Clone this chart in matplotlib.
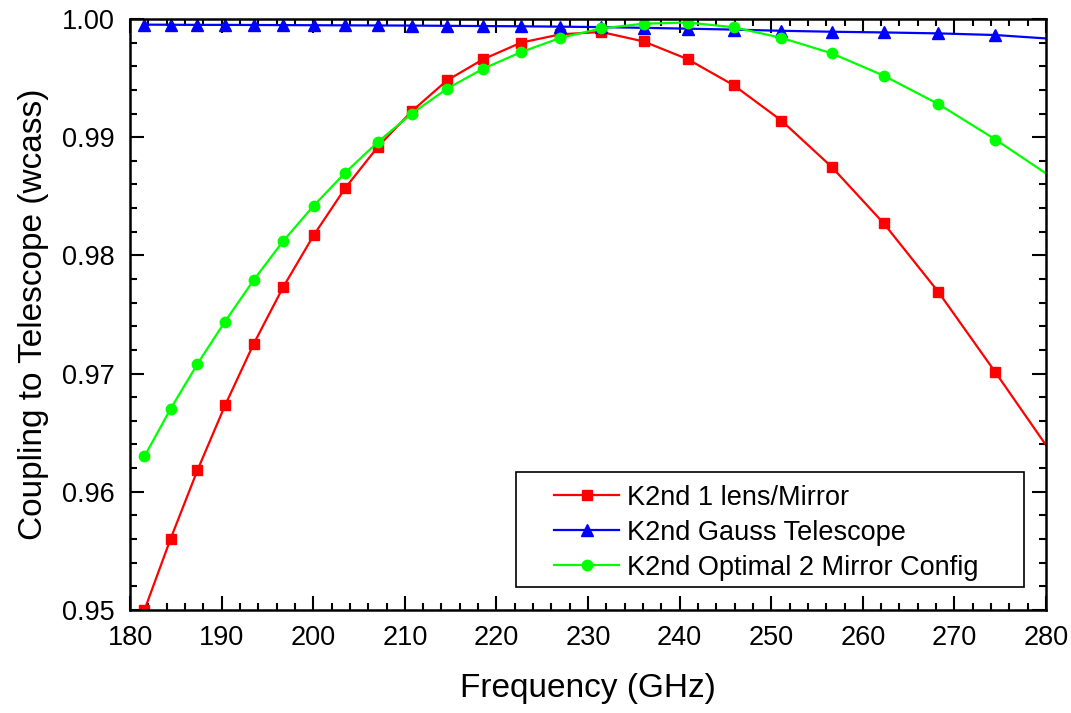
import matplotlib
matplotlib.use('Agg')
import matplotlib.pyplot as plt
from matplotlib.patches import Rectangle
from matplotlib.ticker import MultipleLocator, FormatStrFormatter

plt.rcParams['font.family'] = ['Liberation Sans', 'DejaVu Sans']

# frequency points (GHz)
freq = [181.58, 184.42, 187.35, 190.37, 193.49, 196.71, 200.05, 203.50,
        207.07, 210.77, 214.60, 218.57, 222.70, 226.98, 231.43, 236.06,
        240.87, 245.89, 251.12, 256.58, 262.29, 268.25, 274.48, 281.02]

lens_mirror = [0.9500, 0.9560, 0.9618, 0.9673, 0.9725, 0.9773, 0.9817, 0.9857,
               0.9892, 0.9922, 0.9948, 0.9966, 0.9980, 0.9987, 0.9989, 0.9981,
               0.9966, 0.9944, 0.9914, 0.9875, 0.9827, 0.9769, 0.9701, 0.9628]

gauss_tel = [0.99952, 0.99951, 0.99950, 0.99950, 0.99949, 0.99948, 0.99947, 0.99946,
             0.99945, 0.99944, 0.99942, 0.99940, 0.99938, 0.99935, 0.99931, 0.99925,
             0.99918, 0.99910, 0.99900, 0.99892, 0.99886, 0.99878, 0.99864, 0.99830]

opt_2mirror = [0.9630, 0.9670, 0.9708, 0.9744, 0.9779, 0.9812, 0.9842, 0.9870,
               0.9896, 0.9920, 0.9941, 0.9958, 0.9972, 0.9984, 0.9992, 0.9996,
               0.9997, 0.9993, 0.9984, 0.9971, 0.9952, 0.9928, 0.9898, 0.9864]

fig = plt.figure(figsize=(10.71, 7.13), dpi=100)
ax = fig.add_axes([0.1214, 0.1445, 0.8553, 0.8289])

ax.plot(freq, lens_mirror, color='#FF0000', lw=1.6, marker='s', ms=7.5,
        label='K2nd 1 lens/Mirror')
ax.plot(freq, gauss_tel, color='#0000FF', lw=1.6, marker='^', ms=8.5,
        label='K2nd Gauss Telescope')
ax.plot(freq, opt_2mirror, color='#00FF00', lw=1.6, marker='o', ms=7.5,
        label='K2nd Optimal 2 Mirror Config')

ax.set_xlim(180, 280)
ax.set_ylim(0.95, 1.00)
ax.xaxis.set_major_locator(MultipleLocator(10))
ax.xaxis.set_minor_locator(MultipleLocator(2))
ax.yaxis.set_major_locator(MultipleLocator(0.01))
ax.yaxis.set_minor_locator(MultipleLocator(0.002))
ax.yaxis.set_major_formatter(FormatStrFormatter('%.2f'))

ax.tick_params(which='both', direction='in', top=True, right=True, width=1.5)
ax.tick_params(which='major', length=10, labelsize=19.5)
ax.tick_params(axis='x', which='major', pad=11)
ax.tick_params(axis='y', which='major', pad=11)
ax.tick_params(which='minor', length=5)
for s in ax.spines.values():
    s.set_linewidth(1.8)

ax.set_xlabel('Frequency (GHz)', fontsize=24, labelpad=16)
ax.set_ylabel('Coupling to Telescope (wcass)', fontsize=24, labelpad=9)

# legend frame drawn separately so the padding can match
ax.add_patch(Rectangle((0.4214, 0.0394), 0.5546, 0.1946, transform=ax.transAxes,
                       facecolor='white', edgecolor='black', lw=1.2, zorder=4))
leg = ax.legend(loc='upper left', bbox_to_anchor=(0.4629, 0.212), frameon=False,
                fontsize=19.5, handlelength=2.4, handletextpad=0.3,
                borderpad=0, labelspacing=0.33, borderaxespad=0)
leg.set_zorder(5)

fig.savefig('out.png', dpi=100)
